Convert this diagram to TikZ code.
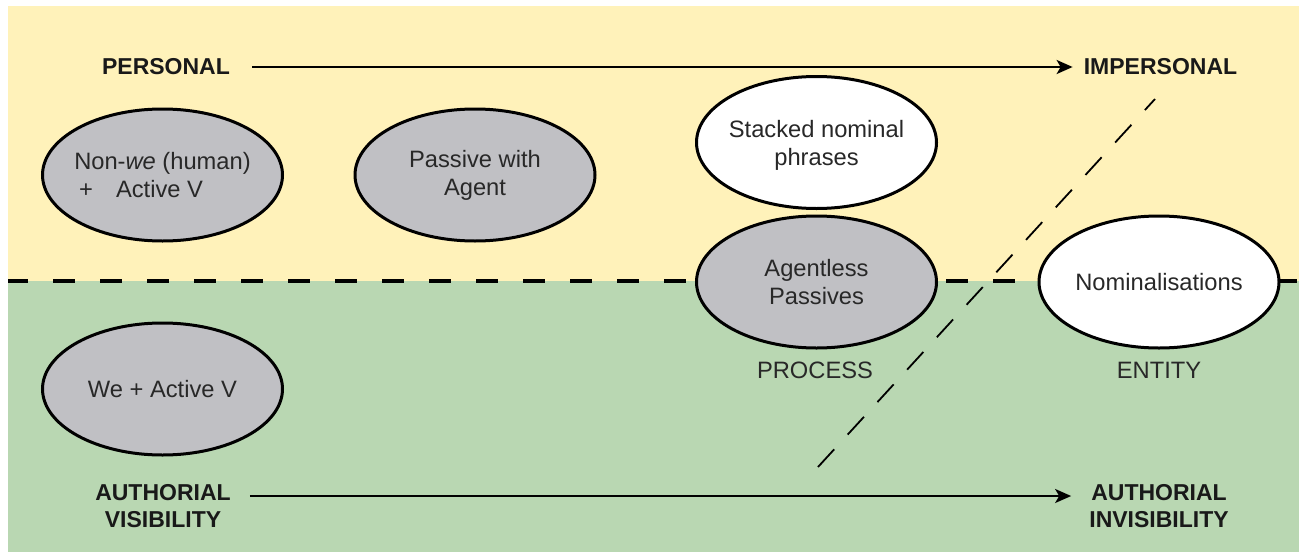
\documentclass[tikz,border=0pt]{standalone}
\usepackage{fontspec}
\setmainfont{Liberation Sans}
\usetikzlibrary{shapes.geometric,arrows.meta}
\definecolor{bandyellow}{RGB}{255,242,186}
\definecolor{bandgreen}{RGB}{185,215,178}
\definecolor{blobgrey}{RGB}{192,192,196}
\definecolor{inkgrey}{RGB}{40,40,40}
\begin{document}
\begin{tikzpicture}[x=1pt,y=-1pt,
  blob/.style={ellipse, draw=black, line width=3pt, minimum width=240pt,
    minimum height=132pt, inner sep=0pt},
  greyblob/.style={blob, fill=blobgrey},
  whiteblob/.style={blob, fill=white},
  blobtext/.style={font=\fontsize{23.7}{28}\selectfont, text=inkgrey,
    align=center, inner sep=0pt},
  axislabel/.style={font=\fontsize{23}{27}\selectfont\bfseries, text=black!90,
    align=center, inner sep=0pt},
  poletext/.style={font=\fontsize{23.7}{28}\selectfont, text=inkgrey, inner sep=0pt},
  axisarrow/.style={line width=2.2pt, -{Stealth[length=16pt,width=14pt,inset=4pt]}},
  divider/.style={line width=4pt, dash pattern=on 22pt off 25pt, dash phase=2pt},
  boundary/.style={line width=1.8pt, dash pattern=on 24pt off 20pt}
]
\useasboundingbox (0,0) rectangle (1299,554);
\fill[white] (0,0) rectangle (1299,554);

% two bands: personal (top) and authorial visibility (bottom)
\fill[bandyellow] (8,6) rectangle (1299,281);
\fill[bandgreen] (8,281) rectangle (1299,552);
\coordinate (divL) at (8,281);
\coordinate (divR) at (1299,281);
\draw[divider] (divL) -- (divR);

% process / entity boundary
\coordinate (bndLow) at (818,467);
\coordinate (bndHigh) at (1155,99);
\draw[boundary] (bndLow) -- (bndHigh);

% ellipses
\node[greyblob] (nonwe) at (162.5,175) {};
\node[blobtext, align=left] (nonweT) at (nonwe) {Non-\textit{we} (human)\\\hspace*{5pt}+\hspace{23pt}Active V};

\node[greyblob] (pwa) at (475,175) {};
\node[blobtext] (pwaT) at (pwa) {Passive with\\Agent};

\node[whiteblob] (snp) at (816.5,142.5) {};
\node[blobtext] (snpT) at (816.5,145) {Stacked nominal\\phrases};

\node[greyblob] (alp) at (816.5,282) {};
\node[blobtext] (alpT) at (alp) {Agentless\\Passives};

\node[whiteblob] (nom) at (1159,282) {};
\node[blobtext] (nomT) at (nom) {Nominalisations};

\node[greyblob] (weav) at (162.5,389) {};
\node[blobtext] (weavT) at (weav) {We + Active V};

% pole labels under the right-hand ellipses
\node[poletext] (proc) at (815,370) {PROCESS};
\node[poletext] (ent) at (1159,370) {ENTITY};

% axis labels and arrows
\node[axislabel] (pers) at (166,67) {PERSONAL};
\node[axislabel] (imp) at (1160.5,67) {IMPERSONAL};
\draw[axisarrow] ([xshift=22pt]pers.east) -- ([xshift=-11pt]imp.west);

\node[axislabel] (avis) at (163,506.5) {AUTHORIAL\\VISIBILITY};
\node[axislabel] (ainv) at (1159,506.5) {AUTHORIAL\\INVISIBILITY};
\draw[axisarrow] ([xshift=19pt,yshift=10.5pt]avis.east) -- ([xshift=-18pt,yshift=10.5pt]ainv.west);
\end{tikzpicture}
\end{document}
